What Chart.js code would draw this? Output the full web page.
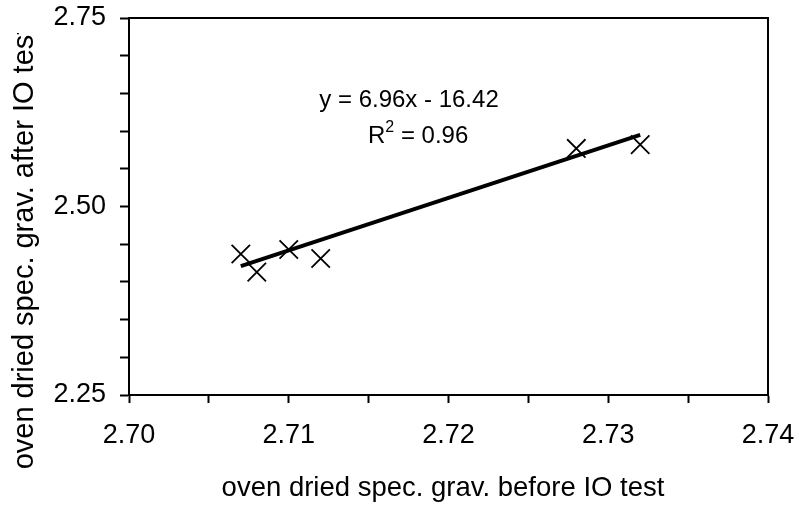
<!DOCTYPE html>
<html>
<head>
<meta charset="utf-8">
<script src="https://cdn.jsdelivr.net/npm/chart.js@4.4.0/dist/chart.umd.min.js"></script>
<style>
  body { margin: 0; background: #fff; }
  #wrap { width: 799px; height: 506px; }
</style>
</head>
<body>
<div id="wrap"><canvas id="myChart" width="799" height="506"></canvas></div>
<script>
// measured points (before vs after IO test)
const beforeIO = [2.707, 2.708, 2.710, 2.712, 2.728, 2.732];
const afterIO  = [2.437, 2.413, 2.443, 2.431, 2.577, 2.582];

// linear trend line  y = 6.96x - 16.42
const trendX = [2.707, 2.732];
const trendY = [2.421, 2.595];

const xTickLabels = ['2.70', '2.71', '2.72', '2.73', '2.74'];
const yTickLabels = ['2.25', '2.50', '2.75'];

const FONT = '"Liberation Sans", Arial, sans-serif';

const frameAndText = {
  id: 'frameAndText',
  afterDraw(chart) {
    const ctx = chart.ctx;
    const a = chart.chartArea;
    ctx.save();
    ctx.strokeStyle = '#000';
    ctx.lineWidth = 2;
    ctx.strokeRect(a.left, a.top, a.right - a.left, a.bottom - a.top);

    ctx.fillStyle = '#000';
    ctx.font = '24px ' + FONT;
    ctx.textAlign = 'center';
    ctx.textBaseline = 'alphabetic';
    ctx.fillText('y = 6.96x - 16.42', 409, 107);

    // R² line
    ctx.textAlign = 'left';
    let x = 368;
    ctx.fillText('R', x, 143);
    x += ctx.measureText('R').width;
    ctx.font = '16px ' + FONT;
    ctx.fillText('2', x, 132);
    x += ctx.measureText('2').width;
    ctx.font = '24px ' + FONT;
    ctx.fillText(' = 0.96', x, 143);

    // axis titles
    ctx.font = '27.5px ' + FONT;
    ctx.textAlign = 'center';
    ctx.fillText('oven dried spec. grav. before IO test', 443, 496);

    // y title is cut off at the top in the original
    ctx.save();
    ctx.beginPath();
    ctx.rect(0, 33, 60, 473);
    ctx.clip();
    ctx.font = '29px ' + FONT;
    ctx.translate(33, 248);
    ctx.rotate(-Math.PI / 2);
    ctx.fillText('oven dried spec. grav. after IO test', 0, 0);
    ctx.restore();
    ctx.restore();
  }
};

const ctx = document.getElementById('myChart').getContext('2d');
window._myChart = new Chart(ctx, {
  type: 'scatter',
  data: {
    datasets: [{
      label: 'points',
      data: beforeIO.map((v, i) => ({ x: v, y: afterIO[i] })),
      pointStyle: 'crossRot',
      pointRadius: 13,
      pointBorderWidth: 1.8,
      borderColor: '#000',
      backgroundColor: '#000'
    }, {
      type: 'line',
      label: 'trend',
      data: trendX.map((v, i) => ({ x: v, y: trendY[i] })),
      borderColor: '#000',
      borderWidth: 4,
      pointRadius: 0,
      fill: false
    }]
  },
  options: {
    responsive: false,
    animation: false,
    layout: { padding: { top: 18, right: 31, left: 0, bottom: 0 } },
    plugins: { legend: { display: false }, tooltip: { enabled: false } },
    scales: {
      x: {
        type: 'linear',
        min: 2.70,
        max: 2.74,
        afterFit(s) { s.height = 111; s.paddingLeft = 0; s.paddingRight = 0; },
        grid: { drawOnChartArea: false, tickLength: 8, tickColor: '#000', tickWidth: 2 },
        border: { display: true, color: '#000', width: 2 },
        ticks: {
          stepSize: 0.005,
          autoSkip: false,
          maxRotation: 0,
          padding: 16,
          color: '#000',
          font: { family: FONT, size: 27 },
          callback: (v, i) => (i % 2 === 0 ? xTickLabels[i / 2] : '')
        }
      },
      y: {
        min: 2.25,
        max: 2.75,
        afterFit(s) { s.width = 129; s.paddingTop = 0; s.paddingBottom = 0; },
        grid: { drawOnChartArea: false, tickLength: 9, tickColor: '#000', tickWidth: 2 },
        border: { display: true, color: '#000', width: 2 },
        ticks: {
          stepSize: 0.05,
          autoSkip: false,
          padding: 14,
          color: '#000',
          font: { family: FONT, size: 27 },
          callback: (v, i) => (i % 5 === 0 ? yTickLabels[i / 5] : '')
        }
      }
    }
  },
  plugins: [frameAndText]
});
</script>
</body>
</html>
